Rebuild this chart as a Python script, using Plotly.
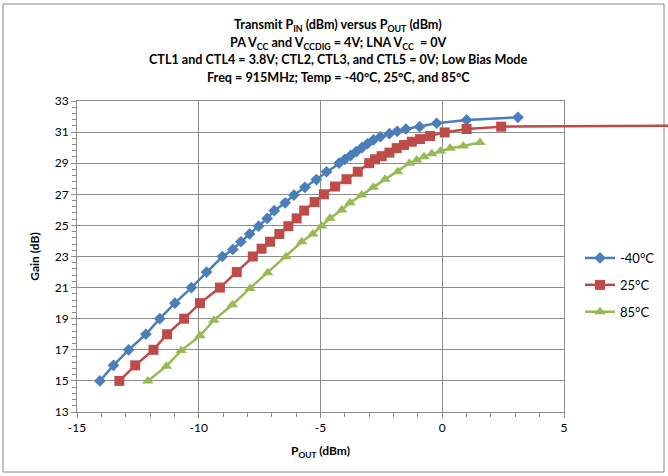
import plotly.graph_objects as go

# ---------------- data ----------------
series_names = ["-40°C", "25°C", "85°C"]

pout_m40 = [-14.06, -13.50, -12.88, -12.17, -11.60, -10.98, -10.30, -9.68, -9.03,
            -8.60, -8.27, -7.91, -7.54, -7.19, -6.90, -6.45, -6.09, -5.64, -5.17,
            -4.75, -4.24, -4.00, -3.76, -3.53, -3.30, -3.07, -2.82, -2.54, -2.17,
            -1.85, -1.49, -0.93, -0.23, 1.00, 3.11]
gain_m40 = [15.0, 16.0, 17.0, 18.0, 19.0, 20.0, 21.0, 22.0, 23.0,
            23.45, 23.95, 24.45, 24.95, 25.45, 25.95, 26.45, 26.95, 27.45, 27.95,
            28.45, 29.0, 29.25, 29.5, 29.75, 30.0, 30.25, 30.5, 30.7, 30.9,
            31.05, 31.2, 31.35, 31.57, 31.78, 31.95]

pout_25 = [-13.26, -12.61, -11.86, -11.30, -10.60, -9.95, -9.13, -8.44, -7.78,
           -7.42, -7.07, -6.69, -6.32, -5.98, -5.67, -5.24, -4.86, -4.40, -3.93,
           -3.47, -3.00, -2.76, -2.49, -2.17, -1.87, -1.57, -1.25, -0.91, -0.50,
           0.10, 1.00, 2.42, 11.0]
gain_25 = [15.0, 16.0, 17.0, 18.0, 19.0, 20.0, 21.0, 22.0, 23.0,
           23.5, 23.95, 24.45, 24.95, 25.45, 25.95, 26.5, 27.0, 27.5, 27.97,
           28.45, 29.0, 29.25, 29.45, 29.68, 29.97, 30.17, 30.38, 30.55, 30.75,
           30.98, 31.2, 31.35, 31.42]

pout_85 = [-12.09, -11.33, -10.72, -9.95, -9.38, -8.62, -7.90, -7.17, -6.42,
           -5.77, -5.32, -4.95, -4.61, -4.13, -3.79, -3.31, -2.83, -2.35, -1.83,
           -1.35, -1.05, -0.75, -0.43, -0.07, 0.32, 0.86, 1.55]
gain_85 = [15.0, 15.95, 16.95, 17.9, 18.9, 19.9, 20.95, 21.96, 22.99,
           23.95, 24.45, 24.96, 25.46, 25.99, 26.46, 26.95, 27.45, 27.96, 28.45,
           29.0, 29.2, 29.42, 29.6, 29.78, 29.96, 30.1, 30.33]

x_ticks = [-15, -10, -5, 0, 5]
y_ticks = [13, 15, 17, 19, 21, 23, 25, 27, 29, 31, 33]
x_tick_labels = ["-15", "-10", "-5", "0", "5"]
y_tick_labels = ["13", "15", "17", "19", "21", "23", "25", "27", "29", "31", "33"]

title_lines = [
    "Transmit P<sub>IN</sub> (dBm) versus P<sub>OUT</sub> (dBm)",
    "PA V<sub>CC</sub> and V<sub>CCDIG</sub> = 4V; LNA V<sub>CC</sub>  = 0V",
    "CTL1 and CTL4 = 3.8V; CTL2, CTL3, and CTL5 = 0V; Low Bias Mode",
    "Freq = 915MHz; Temp = -40°C, 25°C, and 85°C",
]

# ---------------- styling / layout constants ----------------
W, H = 668, 476
L, T, B = 77, 101, 64
PLOT_R = 564               # right edge of the framed plot area (px)
FONT = "Lato"
colors = ["#4A7EBB", "#BE4B48", "#98B954"]
symbols = ["diamond", "square", "triangle-up"]
msizes = [9, 10, 10]
# blue stays in the framed subplot; red/green use a full-width twin so the
# red line can run past the frame like in the reference
axes_for = [("x", "y"), ("x2", "y2"), ("x2", "y2")]

xr = [x_ticks[0], x_ticks[-1]]
yr = [y_ticks[0], y_ticks[-1]]
full_w = W - L
main_frac = (PLOT_R - L) / full_w
x2_hi = xr[0] + (xr[1] - xr[0]) / main_frac

def px2paper_x(px):
    return (px - L) / full_w

def px2paper_y(py):
    return (H - B - py) / (H - B - T)

fig = go.Figure()
data = [(pout_m40, gain_m40), (pout_25, gain_25), (pout_85, gain_85)]
for i, (xs, ys) in enumerate(data):
    fig.add_trace(go.Scatter(
        x=xs, y=ys, name=series_names[i], mode="lines+markers",
        xaxis=axes_for[i][0], yaxis=axes_for[i][1], legendgroup=f"g{i}",
        line=dict(color=colors[i], width=2.5),
        marker=dict(symbol=symbols[i], size=msizes[i], color=colors[i]),
    ))

grid = "#8C8C8C"
axis_font = dict(family=FONT, size=12, color="#000000")

title_y_px = [25, 43, 59, 77]
annotations = [
    dict(text=f"<b>{t}</b>", xref="paper", yref="paper",
         x=px2paper_x(338), y=px2paper_y(py), xanchor="center", yanchor="middle",
         showarrow=False, font=dict(family=FONT, size=12.6, color="#000000"))
    for t, py in zip(title_lines, title_y_px)
]

fig.update_layout(
    width=W, height=H,
    margin=dict(l=L, r=0, t=T, b=B, pad=0),
    paper_bgcolor="white", plot_bgcolor="rgba(0,0,0,0)",
    font=dict(family=FONT, size=12, color="#000000"),
    annotations=annotations,
    xaxis=dict(
        domain=[0, main_frac], anchor="y", range=xr,
        tickvals=x_ticks, ticktext=x_tick_labels,
        showgrid=True, gridcolor=grid, gridwidth=1,
        showline=True, linecolor=grid, linewidth=1, mirror=True,
        ticks="outside", ticklen=5, tickcolor=grid, zeroline=False,
        minor=dict(dtick=1, ticks="outside", ticklen=4, tickcolor=grid, showgrid=False),
        tickfont=axis_font, automargin=False,
        title=dict(text="<b>P<sub>OUT</sub> (dBm)</b>", font=dict(family=FONT, size=12), standoff=12),
    ),
    yaxis=dict(
        domain=[0, 1], anchor="x", range=yr,
        tickvals=y_ticks, ticktext=y_tick_labels,
        showgrid=True, gridcolor=grid, gridwidth=1,
        showline=True, linecolor=grid, linewidth=1, mirror=True,
        ticks="outside", ticklen=5, tickcolor=grid, zeroline=False,
        minor=dict(tick0=13, dtick=0.4, ticks="outside", ticklen=4, tickcolor=grid, showgrid=False),
        tickfont=axis_font, automargin=False,
        title=dict(text="<b>Gain (dB)</b>", font=dict(family=FONT, size=12), standoff=12),
    ),
    xaxis2=dict(domain=[0, 1], anchor="y2", range=[xr[0], x2_hi], visible=False,
                showgrid=False, zeroline=False),
    yaxis2=dict(domain=[0, 1], anchor="x2", range=yr, visible=False,
                showgrid=False, zeroline=False),
    showlegend=True,
    legend=dict(
        x=px2paper_x(580), y=px2paper_y(243), xanchor="left", yanchor="top",
        bgcolor="rgba(0,0,0,0)", font=dict(family=FONT, size=13, color="#000000"),
        tracegroupgap=7, itemwidth=30,
    ),
    shapes=[dict(
        type="rect", xref="paper", yref="paper", layer="below",
        x0=px2paper_x(3), x1=px2paper_x(664), y0=px2paper_y(472), y1=px2paper_y(4),
        line=dict(color="#868686", width=1), fillcolor="rgba(0,0,0,0)",
    )],
)

fig.write_html("out.html")
